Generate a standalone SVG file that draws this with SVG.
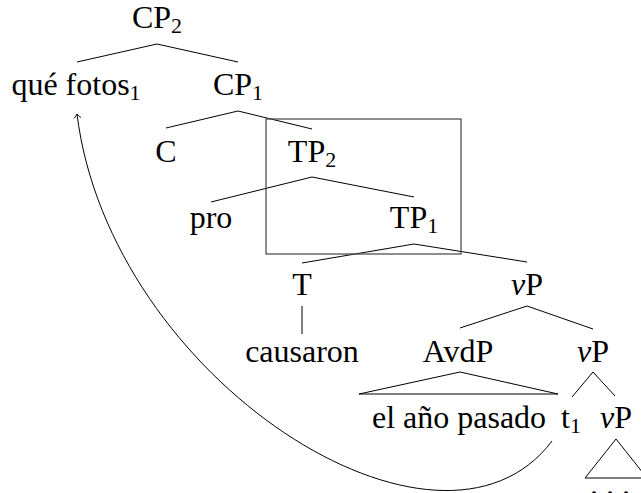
<svg xmlns="http://www.w3.org/2000/svg" width="641" height="493" viewBox="0 0 641 493">
<defs>
<style>
.t{font-family:'Liberation Serif','Times New Roman','DejaVu Serif',serif;font-size:32px;fill:#000;text-anchor:middle}
.sub{font-size:22px}
.e{stroke:#000;stroke-width:1;fill:none}
.box{stroke:#444;stroke-width:1.2;fill:none}
</style>
<marker id="arr" viewBox="-5 -5 7 10" markerWidth="7" markerHeight="10" refX="0" refY="0" orient="auto" markerUnits="userSpaceOnUse">
<path d="M-4,-3.5 Q-1.5,-0.8 0,0 Q-1.5,0.8 -4,3.5" fill="none" stroke="#000" stroke-width="0.9"/>
</marker>
</defs>
<rect width="641" height="493" fill="#fff"/>
<g id="connectors">
<path class="e" d="M77,62 L157,44 L238,62"/>
<path class="e" d="M166,128 L238,111 L312,129"/>
<path class="e" d="M211,202 L312,177 L414,197"/>
<path class="e" d="M302,263 L414,244 L527,262"/>
<path class="e" d="M302,306 L302,334"/>
<path class="e" d="M460,328 L527,306 L593,329"/>
<path class="e" d="M359,394 L460,372 L558,394 Z"/>
<path class="e" d="M572,397 L593,372 L615,396"/>
<path class="e" d="M585,478 L616,439 L647,478 Z"/>
<path class="e" d="M552,441 C440,590 110,380 77,114" marker-end="url(#arr)"/>
</g>
<rect id="box" class="box" x="266" y="119" width="195" height="135"/>
<g font-family="Liberation Serif, Times New Roman, serif" font-size="32" text-anchor="middle">
<g id="CP2"><text class="t" x="157" y="28">CP<tspan class="sub" dy="5">2</tspan></text></g>
<g id="que-fotos"><text class="t" x="76" y="95">qué fotos<tspan class="sub" dy="5">1</tspan></text></g>
<g id="CP1"><text class="t" x="238" y="95">CP<tspan class="sub" dy="5">1</tspan></text></g>
<g id="C"><text class="t" x="166" y="162">C</text></g>
<g id="TP2"><text class="t" x="312" y="162">TP<tspan class="sub" dy="5">2</tspan></text></g>
<g id="pro"><text class="t" x="211" y="228">pro</text></g>
<g id="TP1"><text class="t" x="414" y="228">TP<tspan class="sub" dy="5">1</tspan></text></g>
<g id="T"><text class="t" x="302" y="295">T</text></g>
<g id="vP1"><text class="t" x="527" y="295"><tspan font-style="italic">v</tspan>P</text></g>
<g id="causaron"><text class="t" x="302" y="362">causaron</text></g>
<g id="AvdP"><text class="t" x="458" y="362">AvdP</text></g>
<g id="vP2"><text class="t" x="593" y="362"><tspan font-style="italic">v</tspan>P</text></g>
<g id="el-ano-pasado"><text class="t" x="459" y="428">el año pasado</text></g>
<g id="t1"><text class="t" x="571" y="428">t<tspan class="sub" dy="5">1</tspan></text></g>
<g id="vP3"><text class="t" x="616" y="428"><tspan font-style="italic">v</tspan>P</text></g>
<g id="dots"><text class="t" x="610" y="495">. . .</text></g>
</g>
</svg>
